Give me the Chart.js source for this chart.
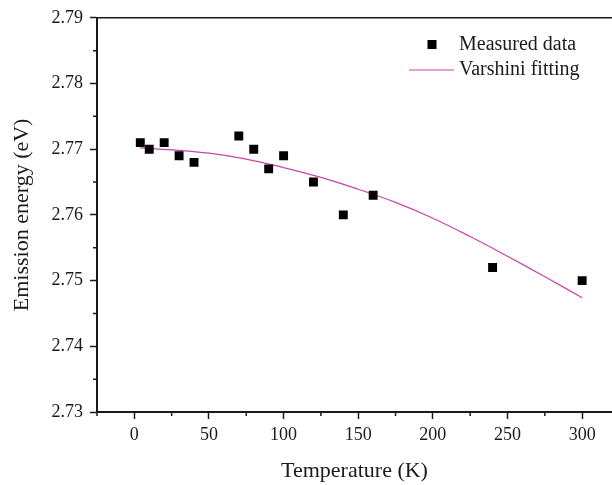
<!DOCTYPE html>
<html>
<head>
<meta charset="utf-8">
<script src="https://cdn.jsdelivr.net/npm/chart.js@4.4.0/dist/chart.umd.min.js"></script>
<style>
  html, body { margin: 0; padding: 0; background: #fff; }
  #wrap { width: 612px; height: 485px; }
</style>
</head>
<body>
<div id="wrap"><canvas id="energyChart"></canvas></div>
<script>
// measured points
var tempMeasured = [4, 10, 20, 30, 40, 70, 80, 90, 100, 120, 140, 160, 240, 300];
var energyMeasured = [2.771, 2.770, 2.771, 2.769, 2.768, 2.772, 2.770, 2.767, 2.769, 2.765, 2.760, 2.763, 2.752, 2.750];

// fitted curve
var tempFit = [4, 25, 50, 75, 100, 125, 150, 175, 200, 225, 250, 275, 300];
var energyFit = [2.7702, 2.7699, 2.7694, 2.7685, 2.7672, 2.7657, 2.7639, 2.7619, 2.7595, 2.7567, 2.7537, 2.7506, 2.7474];

var xTicks = [0, 50, 100, 150, 200, 250, 300];
var yTicks = [2.73, 2.74, 2.75, 2.76, 2.77, 2.78, 2.79];

var serif = '"Liberation Serif", "Times New Roman", serif';
var ink = '#1a1a1a';
var fitColor = '#cc44aa';

function toPoints(xs, ys) {
  return xs.map(function(x, i) { return { x: x, y: ys[i] }; });
}

// top frame line + minor ticks + legend inside the plot
var framePlugin = {
  id: 'frame',
  afterDraw: function(chart) {
    var ctx = chart.ctx;
    var area = chart.chartArea;
    var xs = chart.scales.x;
    var ys = chart.scales.y;
    ctx.save();
    ctx.strokeStyle = ink;
    ctx.lineWidth = 1.5;
    ctx.beginPath();
    ctx.moveTo(area.left, area.top);
    ctx.lineTo(area.right, area.top);
    ctx.stroke();

    // minor ticks
    ctx.beginPath();
    for (var v = -25; v <= 320; v += 50) {
      var px = xs.getPixelForValue(v);
      ctx.moveTo(px, area.bottom);
      ctx.lineTo(px, area.bottom + 4);
    }
    for (var k = 0; k < 6; k++) {
      var py = ys.getPixelForValue(2.735 + k * 0.01);
      ctx.moveTo(area.left, py);
      ctx.lineTo(area.left - 4, py);
    }
    ctx.stroke();

    // legend
    var ds = chart.data.datasets;
    ctx.font = '20px ' + serif;
    ctx.fillStyle = ink;
    ctx.textBaseline = 'middle';
    ctx.fillText(ds[0].label, 459, 45);
    ctx.fillText(ds[1].label, 459, 70);
    ctx.fillStyle = '#000';
    ctx.fillRect(427.5, 40, 9, 9);
    ctx.strokeStyle = fitColor;
    ctx.lineWidth = 1.2;
    ctx.beginPath();
    ctx.moveTo(409, 70);
    ctx.lineTo(454, 70);
    ctx.stroke();
    ctx.restore();
  }
};

var ctx = document.getElementById('energyChart').getContext('2d');
var chart = new Chart(ctx, {
  type: 'scatter',
  data: {
    datasets: [
      {
        label: 'Measured data',
        data: toPoints(tempMeasured, energyMeasured),
        pointStyle: 'rect',
        pointRadius: 6.3,
        pointHoverRadius: 6.3,
        backgroundColor: '#000',
        borderColor: '#000',
        borderWidth: 0,
        order: 1
      },
      {
        label: 'Varshini fitting',
        data: toPoints(tempFit, energyFit),
        showLine: true,
        pointRadius: 0,
        borderColor: fitColor,
        borderWidth: 1.2,
        tension: 0.4,
        fill: false,
        order: 2
      }
    ]
  },
  options: {
    responsive: true,
    maintainAspectRatio: false,
    animation: false,
    layout: { autoPadding: false, padding: { top: 15, right: 0, left: 0, bottom: 0 } },
    plugins: {
      legend: { display: false },
      tooltip: { enabled: false }
    },
    scales: {
      x: {
        type: 'linear',
        min: -25,
        max: 320,
        afterBuildTicks: function(scale) {
          scale.ticks = xTicks.map(function(v) { return { value: v }; });
        },
        afterFit: function(scale) {
          scale.height = 73;
          scale.paddingLeft = 0;
          scale.paddingRight = 0;
        },
        grid: {
          drawOnChartArea: false,
          drawTicks: true,
          tickLength: 7,
          tickWidth: 1.5,
          tickColor: ink
        },
        border: { display: true, color: ink, width: 2 },
        ticks: {
          color: ink,
          padding: 5,
          maxRotation: 0,
          font: { family: serif, size: 18 },
          callback: function(v) { return String(v); }
        },
        title: {
          display: true,
          text: 'Temperature (K)',
          color: ink,
          font: { family: serif, size: 22 },
          padding: { top: 0, bottom: 1 }
        }
      },
      y: {
        type: 'linear',
        min: 2.73,
        max: 2.79,
        afterBuildTicks: function(scale) {
          scale.ticks = yTicks.map(function(v) { return { value: v }; });
        },
        afterFit: function(scale) { scale.width = 97; },
        grid: {
          drawOnChartArea: false,
          drawTicks: true,
          tickLength: 7,
          tickWidth: 1.5,
          tickColor: ink
        },
        border: { display: true, color: ink, width: 2 },
        ticks: {
          color: ink,
          padding: 7,
          font: { family: serif, size: 18 },
          callback: function(v) { return v.toFixed(2); }
        },
        title: {
          display: true,
          text: 'Emission energy (eV)',
          color: ink,
          font: { family: serif, size: 22 },
          padding: { top: 9, bottom: 0 }
        }
      }
    }
  },
  plugins: [framePlugin]
});
</script>
</body>
</html>
